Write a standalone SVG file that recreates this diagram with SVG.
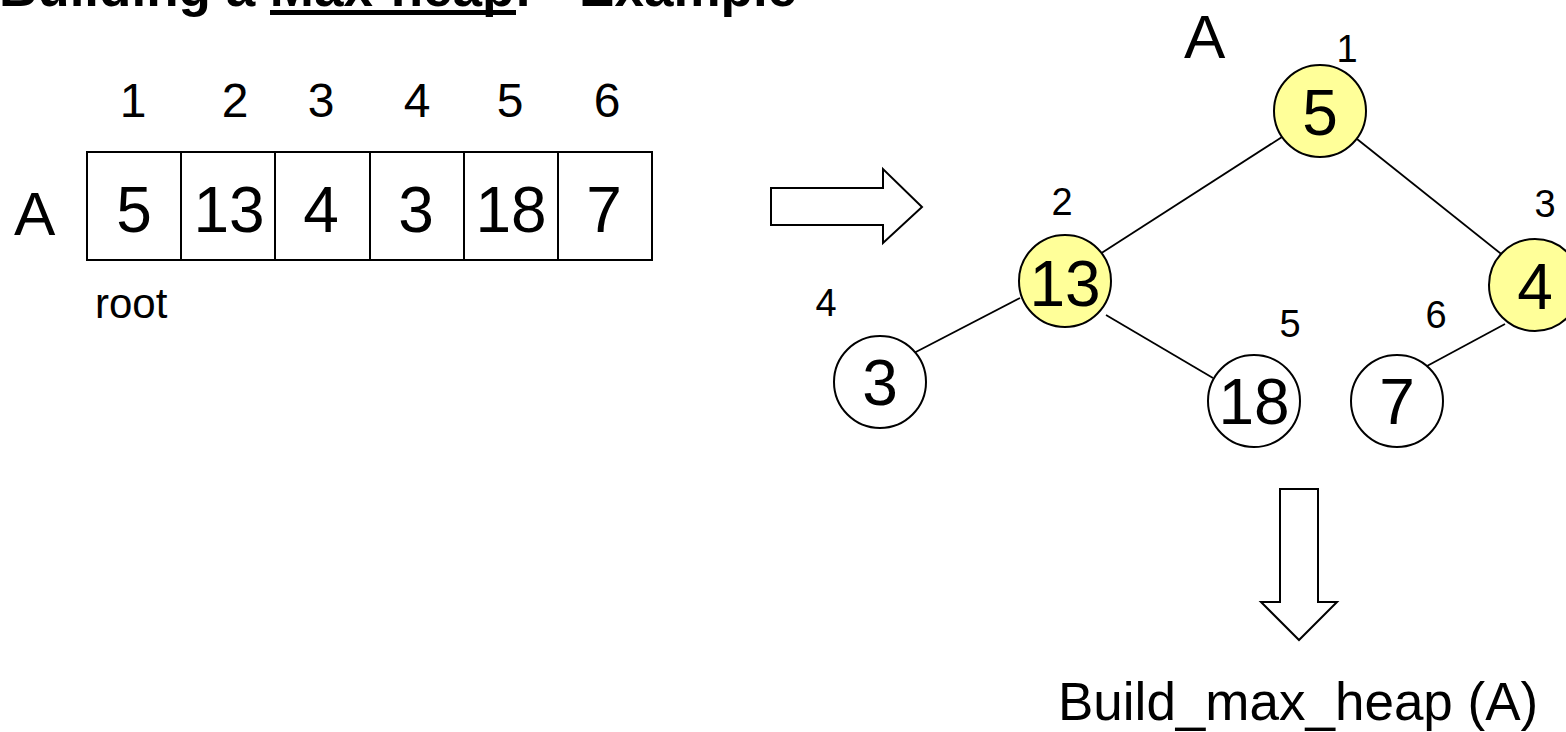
<svg xmlns="http://www.w3.org/2000/svg" width="1566" height="732" viewBox="0 0 1566 732">
  <defs>
    <style>
      text { font-family: "Liberation Sans", Arial, sans-serif; fill: #000; }
      .title { font-size: 53px; font-weight: bold; }
      .idx { font-size: 48px; text-anchor: middle; }
      .val { font-size: 64px; text-anchor: middle; }
      .tidx { font-size: 38px; text-anchor: middle; }
      .big { font-size: 62px; }
      .cell { fill: #fff; stroke: #000; stroke-width: 2; }
      .node { stroke: #000; stroke-width: 2; }
      .hl { fill: #ffff99; }
      .plain { fill: #fff; }
      .edge { stroke: #000; stroke-width: 1.8; fill: none; }
      .block-arrow { fill: #fff; stroke: #000; stroke-width: 2; stroke-linejoin: miter; }
    </style>
  </defs>

  <rect width="1566" height="732" fill="#fff"/>

  <!-- heading, partly above the top edge -->
  <g id="title">
    <text class="title" x="-1" y="6">Building a Max-heap: - Example</text>
    <rect x="270" y="10" width="246" height="5" fill="#000"/>
  </g>

  <!-- array A[1..6] -->
  <g id="array">
    <text class="big" x="14" y="235">A</text>
    <g id="array-indices">
      <text class="idx" x="133" y="117">1</text>
      <text class="idx" x="235" y="117">2</text>
      <text class="idx" x="321" y="117">3</text>
      <text class="idx" x="417" y="117">4</text>
      <text class="idx" x="510" y="117">5</text>
      <text class="idx" x="607" y="117">6</text>
    </g>
    <g id="cell-1"><rect class="cell" x="87" y="152" width="94" height="108"/><text class="val" x="134" y="232">5</text></g>
    <g id="cell-2"><rect class="cell" x="181" y="152" width="94" height="108"/><text class="val" x="229" y="232">13</text></g>
    <g id="cell-3"><rect class="cell" x="275" y="152" width="95" height="108"/><text class="val" x="321" y="232">4</text></g>
    <g id="cell-4"><rect class="cell" x="370" y="152" width="94" height="108"/><text class="val" x="416" y="232">3</text></g>
    <g id="cell-5"><rect class="cell" x="464" y="152" width="94" height="108"/><text class="val" x="511" y="232">18</text></g>
    <g id="cell-6"><rect class="cell" x="558" y="152" width="94" height="108"/><text class="val" x="604" y="232">7</text></g>
    <text x="95" y="318" font-size="42">root</text>
  </g>

  <!-- block arrows -->
  <g id="arrow-right">
    <polygon class="block-arrow" points="771,188 883,188 883,169 922,207 883,243 883,225 771,225"/>
  </g>
  <g id="arrow-down">
    <polygon class="block-arrow" points="1280,489 1318,489 1318,602 1337,602 1299,640 1261,602 1280,602"/>
  </g>

  <!-- tree edges -->
  <g id="connectors">
    <line class="edge" x1="1282" y1="137" x2="1100" y2="254"/>
    <line class="edge" x1="1357" y1="139" x2="1505" y2="257"/>
    <line class="edge" x1="1020" y1="298" x2="912" y2="354"/>
    <line class="edge" x1="1106" y1="315" x2="1213" y2="378"/>
    <line class="edge" x1="1505" y1="324" x2="1427" y2="366"/>
  </g>

  <!-- heap tree nodes -->
  <text class="big" x="1184" y="58">A</text>
  <g id="node-1">
    <circle class="node hl" cx="1320" cy="111" r="46"/>
    <text class="val" x="1320" y="135">5</text>
    <text class="tidx" x="1347" y="62">1</text>
  </g>
  <g id="node-2">
    <circle class="node hl" cx="1065" cy="281" r="46"/>
    <text class="val" x="1065" y="306">13</text>
    <text class="tidx" x="1062" y="215">2</text>
  </g>
  <g id="node-3">
    <circle class="node hl" cx="1535" cy="285" r="46"/>
    <text class="val" x="1535" y="309">4</text>
    <text class="tidx" x="1545" y="217">3</text>
  </g>
  <g id="node-4">
    <circle class="node plain" cx="880" cy="382" r="46"/>
    <text class="val" x="880" y="405">3</text>
    <text class="tidx" x="826" y="316">4</text>
  </g>
  <g id="node-5">
    <circle class="node plain" cx="1254" cy="401" r="46"/>
    <text class="val" x="1254" y="424">18</text>
    <text class="tidx" x="1290" y="337">5</text>
  </g>
  <g id="node-6">
    <circle class="node plain" cx="1397" cy="401" r="46"/>
    <text class="val" x="1397" y="424">7</text>
    <text class="tidx" x="1436" y="328">6</text>
  </g>

  <text x="1058" y="720" font-size="53">Build_max_heap (A)</text>
</svg>
